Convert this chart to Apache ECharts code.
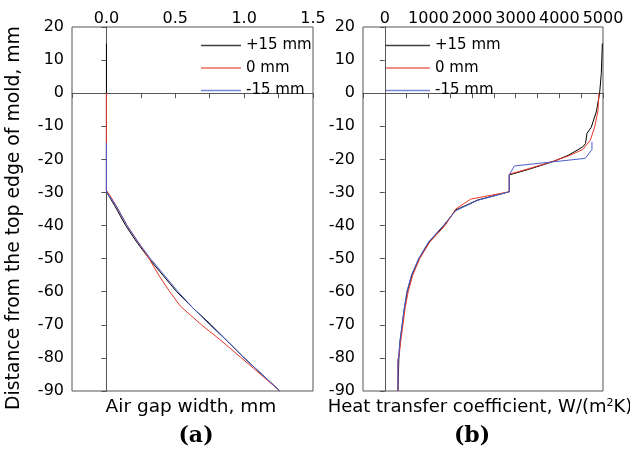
<!DOCTYPE html>
<html>
<head>
<meta charset="utf-8">
<script src="https://cdn.jsdelivr.net/npm/echarts@6/dist/echarts.min.js"></script>
<style>html,body{margin:0;padding:0;background:#fff}#c{width:630px;height:449px}</style>
</head>
<body>
<div id="c"></div>
<script>
// ---- data ----
const seriesNames = ['+15 mm', '0 mm', '-15 mm'];
const gapTickLabels = ['0.0', '0.5', '1.0', '1.5'];
const htcTickLabels = ['0', '1000', '2000', '3000', '4000', '5000'];
const depthTicks = [20, 10, 0, -10, -20, -30, -40, -50, -60, -70, -80, -90];

// (a) air gap width, mm vs depth
const gapP15Depth = [15, -29.5, -30.5, -34, -40, -45, -50, -55, -60, -65, -70, -75, -80, -85, -90];
const gapP15Width = [0, 0, 0.01, 0.06, 0.14, 0.22, 0.31, 0.41, 0.51, 0.63, 0.76, 0.88, 1.0, 1.13, 1.26];
const gap0Depth = [0, -29.5, -30.5, -34, -40, -45, -50, -55, -60, -64.5, -70, -75, -80, -85, -90];
const gap0Width = [0, 0, 0.02, 0.07, 0.15, 0.23, 0.31, 0.38, 0.46, 0.54, 0.69, 0.84, 0.98, 1.12, 1.26];
const gapM15Depth = [-15, -29.5, -30.5, -34, -40, -45, -50, -55, -60, -65, -70, -75, -80, -85, -90];
const gapM15Width = [0, 0, 0.01, 0.07, 0.15, 0.23, 0.32, 0.42, 0.52, 0.63, 0.75, 0.88, 1.0, 1.13, 1.26];

// (b) heat transfer coefficient, W/(m2K) vs depth
const htcP15Depth = [15, 6, 0, -5.6, -10.3, -12.1, -15.2, -16.2, -18.8, -20.7, -23, -24.7, -29.8, -32.3, -35.3, -40, -45, -50, -55, -60, -65, -70, -75, -80, -80.5, -90];
const htcP15Value = [4985, 4961, 4923, 4847, 4731, 4633, 4600, 4540, 4200, 3850, 3300, 2852, 2852, 2124, 1625, 1357, 1012, 782, 620, 513, 450, 400, 350, 322, 300, 300];
const htc0Depth = [0, -5.3, -10.3, -14.2, -17, -19, -20.6, -22.8, -24.5, -29.8, -32, -35, -40, -45, -50, -55, -60, -65, -70, -75, -79, -80.5, -90];
const htc0Value = [4907, 4885, 4808, 4709, 4540, 4200, 3850, 3300, 2852, 2852, 1971, 1625, 1380, 1030, 800, 640, 535, 465, 415, 365, 330, 300, 300];
const htcM15Depth = [-14.7, -17, -19.7, -22, -24.7, -29.8, -32.4, -35.5, -40, -45, -50, -55, -60, -65, -70, -75, -80, -81, -90];
const htcM15Value = [4747, 4747, 4593, 2967, 2852, 2852, 2124, 1625, 1340, 1000, 775, 610, 505, 445, 395, 345, 315, 300, 300];

const colors = ['#000000', '#e8392a', '#4a5fcc'];

function pairs(xs, ys) { return xs.map((x, i) => [x, ys[i]]); }

const FONT = 'DejaVu Sans';
const axisColor = '#555';

function xAxisCfg(gridIndex, min, max, interval, labels) {
  return {
    gridIndex, type: 'value', position: 'top', min, max, interval,
    axisLine: { show: true, lineStyle: { color: axisColor, width: 1 } },
    axisTick: { show: true, inside: true, length: 5, lineStyle: { color: axisColor } },
    splitLine: { show: false },
    axisLabel: {
      margin: 0, fontFamily: FONT, fontSize: 16, color: '#000', showMinLabel: true, showMaxLabel: true,
      formatter: function (v) {
        for (const s of labels) { if (Math.abs(parseFloat(s) - v) < 1e-6) return s; }
        return '';
      }
    }
  };
}
function yAxisCfg(gridIndex) {
  return {
    gridIndex, type: 'value', min: -90, max: 20, interval: 10,
    axisLine: { show: true, lineStyle: { color: axisColor, width: 1 } },
    axisTick: { show: true, inside: false, length: 5, lineStyle: { color: axisColor } },
    splitLine: { show: false },
    axisLabel: {
      margin: 8, fontFamily: FONT, fontSize: 16, color: '#000',
      formatter: function (v) { return depthTicks.indexOf(v) >= 0 ? String(v) : ''; }
    }
  };
}
function lineSeries(name, idx, data, color) {
  return {
    name, type: 'line', xAxisIndex: idx, yAxisIndex: idx, data,
    symbol: 'none', smooth: false, animation: false,
    lineStyle: { color, width: 1 }, itemStyle: { color }, z: 2
  };
}
function legendCfg(left, w) {
  return {
    data: seriesNames.map((n, i) => ({ name: n, icon: 'rect', itemStyle: { color: colors[i], opacity: 0.75 } })),
    orient: 'vertical', left, top: 38, padding: 0,
    itemWidth: w, itemHeight: 1.3, itemGap: 7.5, selectedMode: false,
    textStyle: { fontFamily: FONT, fontSize: 15, color: '#000', lineHeight: 15 }
  };
}

const chart = echarts.init(document.getElementById('c'), null, { renderer: 'canvas' });
chart.setOption({
  animation: false,
  backgroundColor: '#fff',
  grid: [
    { left: 72, top: 27, width: 241, height: 364, show: true, borderColor: axisColor, borderWidth: 1, backgroundColor: 'transparent' },
    { left: 363, top: 27, width: 240, height: 364, show: true, borderColor: axisColor, borderWidth: 1, backgroundColor: 'transparent' }
  ],
  xAxis: [
    xAxisCfg(0, -0.25, 1.5, 0.25, gapTickLabels),
    xAxisCfg(1, -500, 5000, 500, htcTickLabels)
  ],
  yAxis: [yAxisCfg(0), yAxisCfg(1)],
  legend: [legendCfg(201, 40), legendCfg(386, 44)],
  series: [
    lineSeries(seriesNames[0], 0, pairs(gapP15Width, gapP15Depth), colors[0]),
    lineSeries(seriesNames[1], 0, pairs(gap0Width, gap0Depth), colors[1]),
    lineSeries(seriesNames[2], 0, pairs(gapM15Width, gapM15Depth), colors[2]),
    lineSeries(seriesNames[0], 1, pairs(htcP15Value, htcP15Depth), colors[0]),
    lineSeries(seriesNames[1], 1, pairs(htc0Value, htc0Depth), colors[1]),
    lineSeries(seriesNames[2], 1, pairs(htcM15Value, htcM15Depth), colors[2])
  ],
  graphic: [
    { type: 'text', x: 14, y: 218, rotation: Math.PI / 2,
      style: { text: 'Distance from the top edge of mold, mm', font: '18.8px "DejaVu Sans"', fill: '#000', textAlign: 'center', textVerticalAlign: 'middle' } },
    { type: 'text', x: 191, y: 407,
      style: { text: 'Air gap width, mm', font: '18.5px "DejaVu Sans"', fill: '#000', textAlign: 'center', textVerticalAlign: 'middle' } },
    { type: 'text', x: 480, y: 407,
      style: {
        text: '{a|Heat transfer coefficient, W/(m}{s|2}{a|K)}',
        textAlign: 'center', textVerticalAlign: 'middle',
        rich: {
          a: { font: '18px "DejaVu Sans"', fill: '#000' },
          s: { font: '11px "DejaVu Sans"', fill: '#000', verticalAlign: 'top', padding: [0, 0, 8, 0] }
        }
      } },
    { type: 'text', x: 196, y: 436,
      style: { text: '(a)', font: 'bold 22px "DejaVu Serif"', fill: '#000', textAlign: 'center', textVerticalAlign: 'middle' } },
    { type: 'text', x: 472, y: 436,
      style: { text: '(b)', font: 'bold 22px "DejaVu Serif"', fill: '#000', textAlign: 'center', textVerticalAlign: 'middle' } }
  ]
});
</script>
</body>
</html>
